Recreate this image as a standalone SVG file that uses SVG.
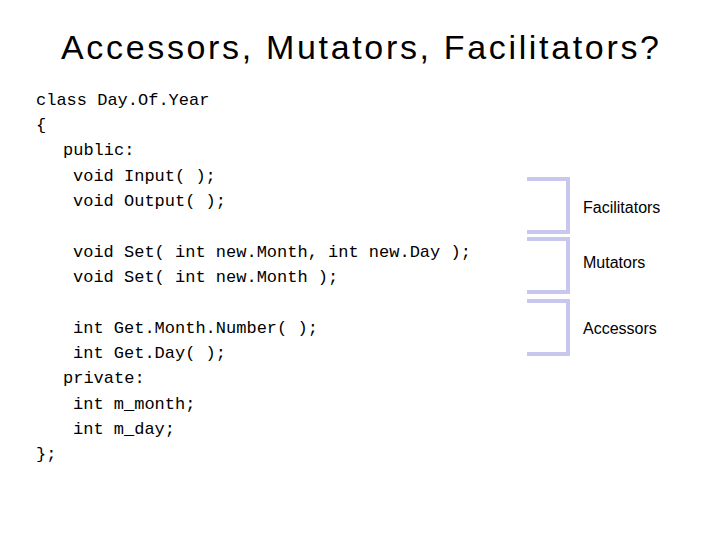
<svg xmlns="http://www.w3.org/2000/svg" width="720" height="540" viewBox="0 0 720 540">
<style>
.c{font-family:"Liberation Mono",monospace;font-size:17px;fill:#000}
.l{font-family:"Liberation Sans",Arial,sans-serif;font-size:16px;fill:#000}
.b{fill:none;stroke:#c8c8ee;stroke-width:4}
</style>
<rect width="720" height="540" fill="#fff"/>
<text x="360" y="59" text-anchor="middle" font-family="Liberation Sans,Arial,sans-serif" font-size="34" textLength="598">Accessors, Mutators, Facilitators?</text>
<g id="code">
<text class="c" x="36" y="105">class Day.Of.Year</text>
<text class="c" x="36" y="130">{</text>
<text class="c" x="63" y="155">public:</text>
<text class="c" x="73" y="181">void Input( );</text>
<text class="c" x="73" y="206">void Output( );</text>
<text class="c" x="73" y="257">void Set( int new.Month, int new.Day );</text>
<text class="c" x="73" y="282">void Set( int new.Month );</text>
<text class="c" x="73" y="333">int Get.Month.Number( );</text>
<text class="c" x="73" y="358">int Get.Day( );</text>
<text class="c" x="63" y="383">private:</text>
<text class="c" x="73" y="409">int m_month;</text>
<text class="c" x="73" y="434">int m_day;</text>
<text class="c" x="36" y="459">};</text>
</g>
<g id="brackets">
<path class="b" d="M527 179H568V232H527"/>
<path class="b" d="M527 239H568V292H527"/>
<path class="b" d="M527 301H568V354H527"/>
</g>
<g id="labels">
<text class="l" x="583" y="213">Facilitators</text>
<text class="l" x="583" y="268">Mutators</text>
<text class="l" x="583" y="334">Accessors</text>
</g>
</svg>
